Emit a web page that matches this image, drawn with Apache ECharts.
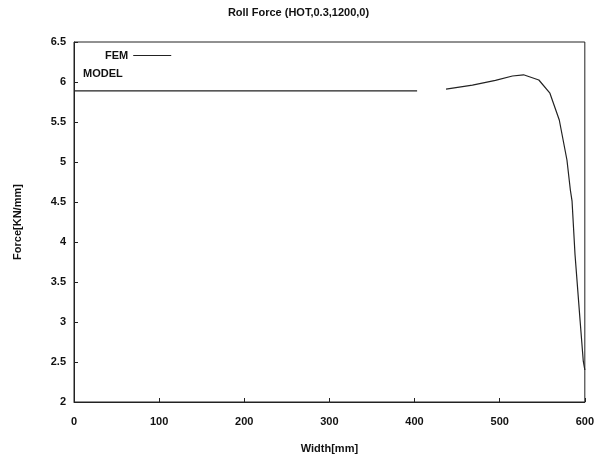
<!DOCTYPE html>
<html>
<head>
<meta charset="utf-8">
<script src="https://cdn.jsdelivr.net/npm/echarts@6/dist/echarts.min.js"></script>
<style>
  html, body { margin: 0; padding: 0; background: #fff; }
  #chart { width: 597px; height: 463px; }
</style>
</head>
<body>
<div id="chart"></div>
<script>
// Roll force across the strip width
const widthFlat = [0, 100, 200, 300, 403];
const forceFlat = [5.89, 5.89, 5.89, 5.89, 5.89];
const widthCurve = [437, 468, 495, 515, 528, 546, 559, 570, 579, 583, 585, 588.5, 594.5, 598.2, 600];
const forceCurve = [5.91, 5.96, 6.02, 6.075, 6.09, 6.025, 5.86, 5.525, 5.025, 4.65, 4.51, 3.84, 3.01, 2.51, 2.4];
const xTicks = [0, 100, 200, 300, 400, 500, 600];
const yTicks = [2, 2.5, 3, 3.5, 4, 4.5, 5, 5.5, 6, 6.5];

// one series, broken between the flat part and the curve
const femData = widthFlat.map((w, i) => [w, forceFlat[i]])
  .concat([[420, null]])
  .concat(widthCurve.map((w, i) => [w, forceCurve[i]]));

const font = 'Liberation Sans, Arial, sans-serif';
const ink = '#111';
const legendText = { fontFamily: font, fontSize: 11, fontWeight: 'bold', color: ink };
const chart = echarts.init(document.getElementById('chart'));
chart.setOption({
  animation: false,
  backgroundColor: '#fff',
  title: {
    text: 'Roll Force (HOT,0.3,1200,0)',
    left: 'center',
    top: 2,
    textStyle: { fontFamily: font, fontSize: 11, fontWeight: 'bold', color: ink }
  },
  legend: [
    {
      left: 100,
      top: 45,
      align: 'right',
      itemWidth: 38,
      itemHeight: 1,
      textStyle: legendText,
      data: [{ name: 'FEM', icon: 'rect', itemStyle: { color: '#222' } }]
    },
    {
      left: 78,
      top: 63,
      align: 'right',
      itemWidth: 1,
      itemHeight: 1,
      textStyle: legendText,
      data: [{ name: 'MODEL', icon: 'rect', itemStyle: { opacity: 0 } }]
    }
  ],
  grid: { left: 74, right: 11, top: 42, bottom: 61, show: true, borderColor: '#222', borderWidth: 1 },
  xAxis: {
    type: 'value',
    min: 0, max: 600, interval: 100,
    name: 'Width[mm]',
    nameLocation: 'middle',
    nameGap: 41,
    nameTextStyle: { fontFamily: font, fontSize: 11, fontWeight: 'bold', color: ink },
    axisLine: { show: true, lineStyle: { color: '#222' } },
    axisTick: { show: true, inside: true, length: 4, lineStyle: { color: '#222' } },
    splitLine: { show: false },
    axisLabel: {
      margin: 14,
      fontFamily: font, fontSize: 11, fontWeight: 'bold', color: ink,
      formatter: v => xTicks.includes(v) ? String(v) : ''
    }
  },
  yAxis: {
    type: 'value',
    min: 2, max: 6.5, interval: 0.5,
    name: 'Force[KN/mm]',
    nameLocation: 'middle',
    nameGap: 51,
    nameTextStyle: { fontFamily: font, fontSize: 11, fontWeight: 'bold', color: ink },
    axisLine: { show: true, lineStyle: { color: '#222' } },
    axisTick: { show: true, inside: true, length: 4, lineStyle: { color: '#222' } },
    splitLine: { show: false },
    axisLabel: {
      margin: 8,
      fontFamily: font, fontSize: 11, fontWeight: 'bold', color: ink,
      formatter: v => yTicks.includes(v) ? String(v) : ''
    }
  },
  series: [
    {
      name: 'FEM',
      type: 'line',
      data: femData,
      connectNulls: false,
      showSymbol: false,
      lineStyle: { color: '#222', width: 1.2 },
      itemStyle: { color: '#222' }
    },
    {
      name: 'MODEL',
      type: 'line',
      data: [],
      showSymbol: false,
      lineStyle: { color: '#222', width: 1.2 },
      itemStyle: { color: '#222' }
    }
  ]
});
</script>
</body>
</html>
